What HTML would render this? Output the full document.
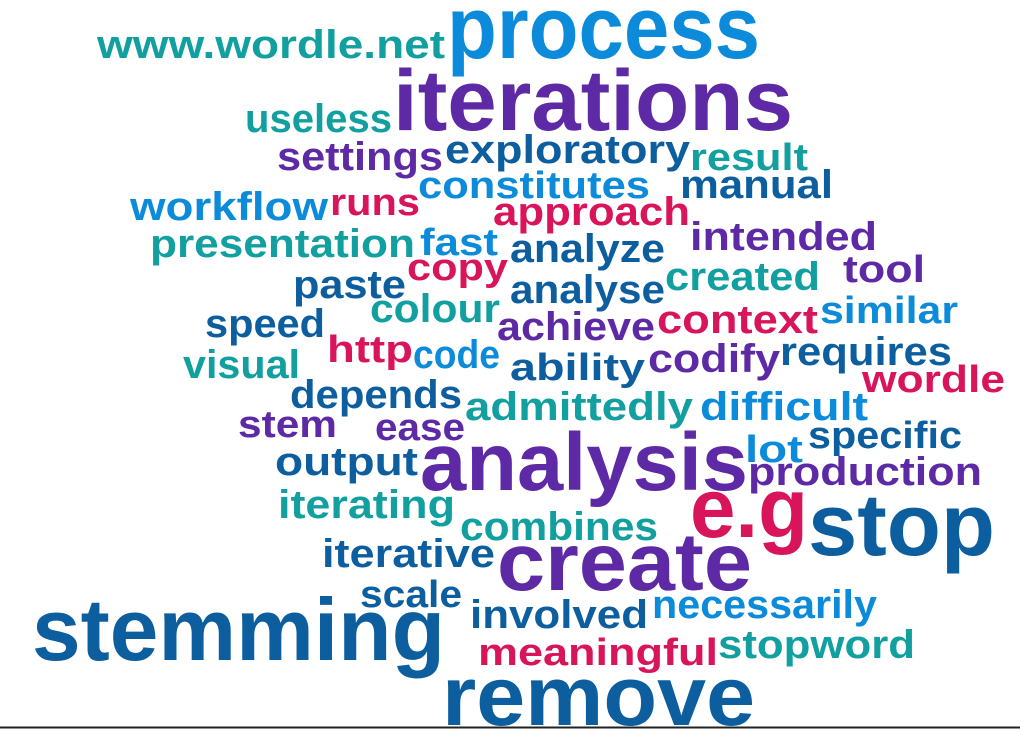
<!DOCTYPE html>
<html><head><meta charset="utf-8">
<style>
html,body{margin:0;padding:0;background:#fff;}
svg{display:block;}
text{font-family:"Liberation Sans",sans-serif;font-weight:bold;}
</style></head>
<body>
<svg id="cloud" width="1020" height="729" viewBox="0 0 1020 729">
<line x1="0" y1="727.5" x2="1020" y2="727.5" stroke="#222" stroke-width="2"/>
</svg>
<script>
const C={t:"#129f9f",b:"#0b8bd9",p:"#5e29a5",n:"#0c5e9f",r:"#d8145a"};
const words=["process","www.wordle.net","iterations","useless","settings","exploratory","result","constitutes","manual","workflow","runs","approach","intended","presentation","fast","analyze","copy","tool","paste","created","analyse","colour","similar","speed","context","achieve","http","code","visual","ability","codify","requires","wordle","depends","admittedly","difficult","stem","ease","lot","specific","output","analysis","production","iterating","combines","e.g","stop","iterative","create","scale","involved","necessarily","stemming","stopword","meaningful","remove"];
const colors=["b","t","p","t","p","n","t","b","n","b","r","r","p","t","b","n","r","p","n","t","n","t","b","n","r","p","r","b","t","n","p","n","r","n","t","b","p","p","b","n","n","p","p","t","t","r","n","n","p","n","n","b","n","t","r","n"];
const lefts=[447,97,393,245,277,445,690,418,680,130,330,493,690,150,420,510,407,843,293,665,510,370,820,205,657,497,327,413,183,510,648,780,862,290,465,700,238,375,745,808,275,420,748,278,460,690,808,322,497,360,470,652,32,718,478,442];
const rights=[760,445,793,392,443,690,808,650,833,328,420,690,877,415,498,665,508,925,406,820,665,500,958,325,818,655,413,500,300,645,780,952,1005,462,693,868,337,465,803,962,418,748,982,455,658,808,995,495,752,462,648,877,445,915,718,755];
const bases=[58,58,130,132,170,163,170,198,198,220,215,225,250,257,255,262,280,282,298,290,303,322,323,337,333,340,362,368,378,380,372,365,392,408,420,420,437,440,462,448,475,490,485,518,540,537,555,567,590,607,628,618,660,658,665,725];
const sizes=[88,40,86,40,40,40,38,38,40,40,38,40,40,40,38,40,38,38,40,40,40,40,38,40,40,40,38,40,40,38,40,40,38,40,40,40,38,38,38,38,40,82,40,40,40,84,88,40,82,38,40,40,88,40,38,84];
const svg=document.getElementById('cloud');
words.forEach((w,i)=>{
  const t=document.createElementNS('http://www.w3.org/2000/svg','text');
  t.setAttribute('x',lefts[i]);
  t.setAttribute('y',bases[i]);
  t.setAttribute('font-size',sizes[i]);
  t.setAttribute('fill',C[colors[i]]);
  t.setAttribute('textLength',rights[i]-lefts[i]);
  t.setAttribute('lengthAdjust','spacingAndGlyphs');
  
  
  t.textContent=w;
  svg.appendChild(t);
});
</script>
</body></html>
